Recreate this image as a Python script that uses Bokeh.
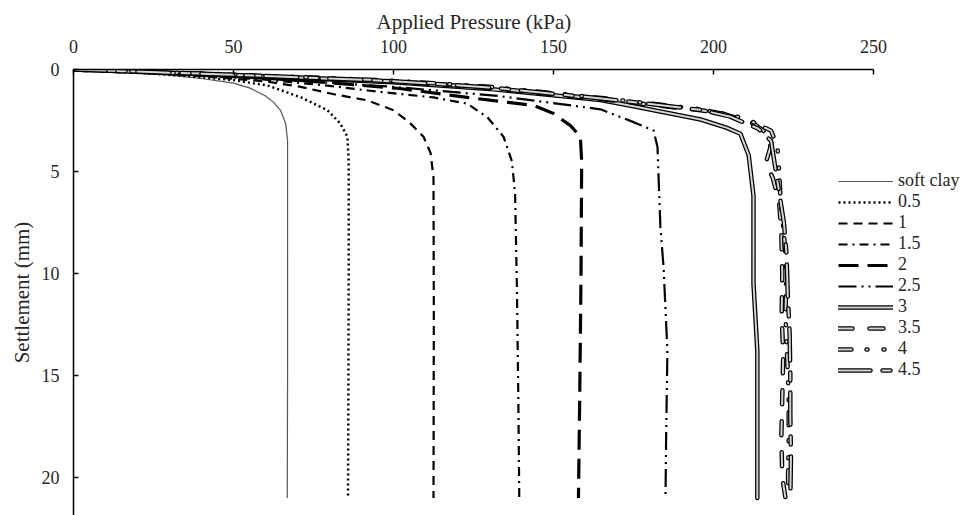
from bokeh.plotting import figure
from bokeh.models import Range1d, FixedTicker, Legend, LegendItem
from bokeh.embed import file_html
from bokeh.resources import INLINE

# ---- data: applied pressure (kPa) vs settlement (mm) ----
soft_clay_p = [0, 10, 20, 30, 40, 50, 55, 60, 62.5, 64.7, 66.3, 66.9, 66.9, 66.9, 66.8]
soft_clay_s = [0, 0.08, 0.17, 0.28, 0.44, 0.67, 0.9, 1.3, 1.6, 2.0, 2.65, 3.5, 8, 15, 21]

r05_p = [0, 20, 40, 50, 60.6, 71, 79.4, 83.4, 85.6, 86, 86, 85.9, 85.8]
r05_s = [0, 0.15, 0.38, 0.52, 0.78, 1.36, 2.0, 2.65, 3.3, 4.5, 10, 16, 21]

r1_p = [0, 20, 40, 60, 71, 81, 92, 100, 105, 109.4, 111.6, 112.5, 112.6, 112.5]
r1_s = [0, 0.13, 0.32, 0.58, 0.85, 1.2, 1.52, 2.0, 2.6, 3.3, 4.1, 5.3, 12, 21]

r15_p = [0, 30, 60, 80, 92, 112.5, 123, 129.4, 134.4, 137, 138, 138.6, 139, 139.3]
r15_s = [0, 0.2, 0.5, 0.8, 1.03, 1.37, 1.67, 2.35, 3.3, 4.5, 6.1, 11, 16, 21]

r2_p = [0, 30, 60, 80, 102, 123, 143.8, 150, 155.3, 158.4, 158.8, 158.6, 158.2, 157.8]
r2_s = [0, 0.18, 0.42, 0.65, 0.93, 1.37, 1.76, 2.16, 2.75, 3.3, 4.5, 10, 16, 21]

r25_p = [0, 50, 100, 133, 164.7, 175, 181.3, 182.5, 183.4, 184.4, 185.6, 185.2, 185]
r25_s = [0, 0.35, 0.85, 1.3, 1.95, 2.58, 3.0, 3.8, 7.7, 9.7, 13.8, 18, 21]

r3_p = [0, 50, 100, 130, 164.7, 175, 196, 204, 208.4, 211, 212.5, 212.5, 213.7, 213.7, 213.7]
r3_s = [0, 0.28, 0.62, 0.95, 1.5, 1.8, 2.45, 2.85, 3.15, 4.2, 6.2, 10.5, 13.8, 18, 21]

r35_p = [0, 50, 100, 130, 165, 196, 203, 212.5, 216.9, 217.8, 216.3, 218.5, 220.5, 221.2, 221.5, 221.3, 221.8, 221.5, 221.2, 221.5, 222.5]
r35_s = [0, 0.27, 0.58, 0.9, 1.45, 2.0, 2.16, 2.65, 3.15, 3.8, 4.6, 5.3, 6.5, 8, 10, 12, 14, 16, 18, 20, 21]

r4_p = [0, 50, 100, 130, 165, 196, 210, 218, 220, 220.5, 221, 222, 222.8, 222.5, 223, 223.5, 223.5, 223.3, 223.5]
r4_s = [0, 0.25, 0.55, 0.85, 1.4, 1.95, 2.4, 3.0, 3.8, 5, 6.5, 8, 10, 12, 14, 16, 18, 20, 21]

r45_p = [0, 50, 100, 130, 165, 196, 205, 214, 218, 219, 220.5, 222, 222.8, 223.2, 223.8, 224, 224, 224.2, 224]
r45_s = [0, 0.26, 0.57, 0.88, 1.42, 1.98, 2.3, 2.9, 3.5, 4.5, 6, 7.5, 9, 11, 13, 15, 17, 19, 21]

labels = ["soft clay", "0.5", "1", "1.5", "2", "2.5", "3", "3.5", "4", "4.5"]
x_ticks = [0, 50, 100, 150, 200, 250]
y_ticks = [0, 5, 10, 15, 20]

FONT = "Liberation Serif"
TXT = "#262626"

# frame spans the whole width so the legend is not clipped; axis drawn only over 0..250
p = figure(width=973, height=515, output_backend="svg", toolbar_location=None,
           x_range=Range1d(0, 281.25), y_range=Range1d(21.86, 0),
           x_axis_location="above", min_border_left=73, min_border_top=69,
           min_border_right=0, min_border_bottom=0)
p.outline_line_color = None
p.xgrid.visible = False
p.ygrid.visible = False
p.background_fill_color = "white"
p.border_fill_color = "white"

# x-axis title centred over the 0..250 axis (not the wider frame)
p.title.text = "Applied Pressure (kPa)"
p.title.align = "left"
p.title.offset = 303
p.title.standoff = 5
p.title.text_font = FONT
p.title.text_font_size = "21px"
p.title.text_font_style = "normal"
p.title.text_color = TXT

for ax, ticks in ((p.xaxis[0], x_ticks), (p.yaxis[0], y_ticks)):
    ax.ticker = FixedTicker(ticks=ticks)
    ax.axis_label_text_font = FONT
    ax.axis_label_text_font_size = "21px"
    ax.axis_label_text_font_style = "normal"
    ax.axis_label_text_color = TXT
    ax.major_label_text_font = FONT
    ax.major_label_text_font_size = "18px"
    ax.major_label_text_color = TXT
    ax.axis_line_color = "black"
    ax.axis_line_width = 1.5
    ax.major_tick_line_color = "black"
    ax.major_tick_line_width = 1.5
    ax.major_tick_in = 5
    ax.major_tick_out = 0
    ax.minor_tick_line_color = None
p.yaxis[0].axis_label = "Settlement (mm)"
p.xaxis[0].bounds = (0, 250)
p.xaxis[0].major_label_standoff = 17
p.yaxis[0].major_label_standoff = 14
p.yaxis[0].axis_label_standoff = 5

series = [
    (soft_clay_p, soft_clay_s, dict(color="#555555", width=1.2, dash="solid", double=False)),
    (r05_p, r05_s, dict(color="black", width=2.5, dash="2 3", double=False)),
    (r1_p, r1_s, dict(color="black", width=2.2, dash="9 6", double=False)),
    (r15_p, r15_s, dict(color="black", width=2.2, dash="9 5 2 5", double=False)),
    (r2_p, r2_s, dict(color="black", width=3.2, dash="20 9", double=False)),
    (r25_p, r25_s, dict(color="black", width=2.2, dash="18 5 2 5 2 5", double=False)),
    (r3_p, r3_s, dict(dash="solid", double=True)),
    (r35_p, r35_s, dict(dash="14 17", double=True)),
    (r4_p, r4_s, dict(dash="13 15 1 16 1 12", double=True)),
    (r45_p, r45_s, dict(dash="32 12 8 12", double=True)),
]

items = []
for (xs, ys, st), lab in zip(series, labels):
    if st["double"]:
        r1 = p.line(xs, ys, line_color="black", line_width=4.5, line_dash=st["dash"],
                    line_cap="round", line_join="round")
        r2 = p.line(xs, ys, line_color="#d4d4d4", line_width=2, line_dash=st["dash"],
                    line_cap="round", line_join="round")
        rs = [r1, r2]
    else:
        r1 = p.line(xs, ys, line_color=st["color"], line_width=st["width"],
                    line_dash=st["dash"], line_join="round")
        rs = [r1]
    items.append(LegendItem(label=lab, renderers=rs))

legend = Legend(items=items, location=(765, 135), glyph_width=55, glyph_height=18,
                label_height=18, spacing=0, padding=0, margin=0, label_standoff=5,
                border_line_color=None, background_fill_alpha=0,
                label_text_font=FONT, label_text_font_size="18px", label_text_color=TXT)
p.add_layout(legend)

open("out.html", "w").write(file_html(p, INLINE))
